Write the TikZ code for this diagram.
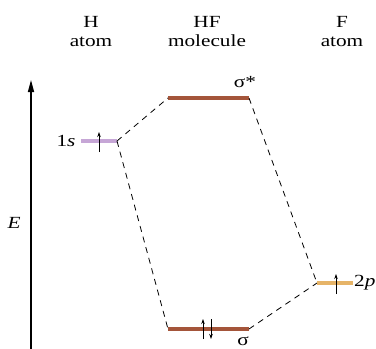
\documentclass[tikz,border=0pt]{standalone}
\usepackage{fontspec}
\setmainfont{Liberation Serif}[FakeStretch=1.25]
\usetikzlibrary{arrows.meta}
\definecolor{hcol}{HTML}{C6A6D6}
\definecolor{mocol}{HTML}{A4553A}
\definecolor{fcol}{HTML}{E6B468}
\begin{document}
\begin{tikzpicture}[x=1pt, y=-1pt, line cap=butt, >=Triangle,
		level/.style={line width=3.4pt},
		corr/.style={line width=0.8pt, dash pattern=on 6pt off 5pt},
		spin/.style={-{Stealth[length=5pt,width=3.5pt]}, line width=0.7pt},
		lbl/.style={font=\fontsize{17}{19}\selectfont}]
			\useasboundingbox (0,0) rectangle (376,349);
			% headers
			\node[lbl, align=center] (hhead) at (91,32) {H\\atom};
			\node[lbl, align=center] (mhead) at (207,32) {HF\\molecule};
			\node[lbl, align=center] (fhead) at (342,32) {F\\atom};
			% energy axis
			\coordinate (ebot) at (31,349);
			\coordinate (etop) at (31,80);
			\draw [line width=1.4pt, -{Triangle[length=12pt,width=6pt]}] (ebot) -- (etop);
			\node[lbl] (elab) at (14,223) {\textit{E}};
			% levels
			\coordinate (hL) at (81,141);   \coordinate (hR) at (117,141);
			\coordinate (sLt) at (168,98);  \coordinate (sRt) at (249,98);
			\coordinate (sL) at (168,329);  \coordinate (sR) at (249,329);
			\coordinate (fL) at (317,283);  \coordinate (fR) at (353,283);
			\draw [level, hcol] (hL) -- (hR);
			\draw [level, mocol] (sLt) -- (sRt);
			\draw [level, mocol] (sL) -- (sR);
			\draw [level, fcol] (fL) -- (fR);
			% correlation lines
			\draw [corr] (hR) -- (sLt);
			\draw [corr] (hR) -- (sL);
			\draw [corr] (sRt) -- (fL);
			\draw [corr] (sR) -- (fL);
			% electrons
			\draw [spin] (99,152) -- (99,132);
			\draw [spin] (203,339) -- (203,319);
			\draw [spin] (211,319) -- (211,339);
			\draw [spin] (336,294) -- (336,274);
			% symbols
			\node[lbl, anchor=east] (hs) at ([xshift=-2pt]hL) {1\textit{s}};
			\node[lbl, anchor=west, inner sep=1pt] (fp) at (fR) {2\textit{p}};
			\node[lbl] (sstar) at (245,82) {σ*};
			\node[lbl] (sig) at (243,341) {σ};
		\end{tikzpicture}
\end{document}
